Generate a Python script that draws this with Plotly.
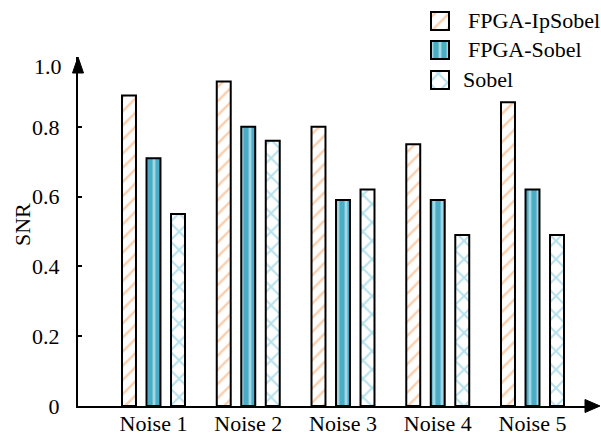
import plotly.graph_objects as go

categories = ["Noise 1", "Noise 2", "Noise 3", "Noise 4", "Noise 5"]
fpga_ipsobel = [0.89, 0.93, 0.80, 0.75, 0.87]
fpga_sobel = [0.71, 0.80, 0.59, 0.59, 0.62]
sobel = [0.55, 0.76, 0.62, 0.49, 0.49]
series_names = ["FPGA-IpSobel", "FPGA-Sobel", "Sobel"]
ytick_vals = [0, 0.2, 0.4, 0.6, 0.8]
ytick_text = ["0", "0.2", "0.4", "0.6", "0.8"]

FONT = "Liberation Serif"
W, H = 601, 436
L, R, B = 78, 588, 406   # plot area: x 78..588, y 0..406 (pixels)
YTOP = 57                # top of the main y axis
PW = R - L

def px(x):
    return (x - L) / PW

def py(y):
    return (B - y) / B

styles = [
    dict(color="white", pattern=dict(shape="/", fgcolor="#F4A261", bgcolor="white", size=10, solidity=0.25)),
    dict(color="#4BACC6", pattern=dict(shape="|", fgcolor="white", bgcolor="#4BACC6", size=8, solidity=0.35)),
    dict(color="white", pattern=dict(shape="x", fgcolor="#6EC1DA", bgcolor="white", size=13, solidity=0.3)),
]

xidx = list(range(len(categories)))
fig = go.Figure()
for name, vals, st in zip(series_names, [fpga_ipsobel, fpga_sobel, sobel], styles):
    fig.add_trace(go.Bar(
        x=xidx, y=vals, name=name, showlegend=False,
        marker=dict(color=st["color"], line=dict(color="black", width=2), pattern=st["pattern"]),
    ))

# manual legend swatches on a hidden pixel-scaled axis
leg_rows = [21, 50, 80]
LX0, LX1, LY1 = 420, 460, 100
for name, st, yc in zip(series_names, styles, leg_rows):
    fig.add_trace(go.Bar(
        x=[18], y=[yc], base=[431], width=[18], orientation="h",
        xaxis="x2", yaxis="y2", showlegend=False, hoverinfo="skip",
        marker=dict(color=st["color"], line=dict(color="black", width=2), pattern=st["pattern"]),
    ))
    fig.add_annotation(x=px(461 if name == "Sobel" else 466), xref="paper", y=py(yc), yref="paper",
                       text=name, showarrow=False, xanchor="left", yanchor="middle",
                       font=dict(family=FONT, size=22, color="black"))

unit = 94.75
r0 = -(153.5 - L) / unit
r1 = r0 + PW / unit

fig.update_layout(
    width=W, height=H,
    margin=dict(l=L, r=W - R, t=0, b=H - B, autoexpand=False),
    paper_bgcolor="white", plot_bgcolor="rgba(0,0,0,0)",
    barmode="group", bargap=0.224, bargroupgap=0.43,
    font=dict(family=FONT, size=22, color="black"),
    showlegend=False,
    xaxis=dict(range=[r0, r1], tickvals=xidx, ticktext=categories,
               showline=True, linecolor="black", linewidth=2,
               showgrid=False, zeroline=False, ticks="", ticklabelstandoff=-3,
               tickfont=dict(family=FONT, size=22, color="black")),
    yaxis=dict(range=[0, 1.0], domain=[0, py(YTOP)], tickvals=ytick_vals, ticktext=ytick_text,
               showline=True, linecolor="black", linewidth=2,
               showgrid=False, zeroline=False, ticks="inside", ticklen=4,
               tickwidth=1.5, tickcolor="black", ticklabelstandoff=12,
               tickfont=dict(family=FONT, size=22, color="black")),
    xaxis2=dict(domain=[px(LX0), px(LX1)], range=[LX0, LX1], anchor="y2",
                visible=False, fixedrange=True),
    yaxis2=dict(domain=[py(LY1), 1], range=[LY1, 0], anchor="x2",
                visible=False, fixedrange=True),
)

# "1.0" label at the arrow end and y-axis title
fig.add_annotation(x=0, xref="paper", y=py(67), yref="paper", text="1.0",
                   showarrow=False, xanchor="right", yanchor="middle", xshift=-14,
                   font=dict(family=FONT, size=22, color="black"))
fig.add_annotation(x=px(22), xref="paper", y=py(225), yref="paper", text="SNR",
                   showarrow=False, textangle=-90, xanchor="center", yanchor="middle",
                   font=dict(family=FONT, size=22, color="black"))

# arrowheads
fig.add_shape(type="path", xref="paper", yref="paper",
              path=f"M {px(72.5)},{py(73)} L {px(78)},{py(57)} L {px(83.5)},{py(73)} Z",
              fillcolor="black", line=dict(color="black", width=1))
fig.add_shape(type="path", xref="paper", yref="paper",
              path=f"M {px(585)},{py(399.5)} L {px(600)},{py(406)} L {px(585)},{py(412.5)} Z",
              fillcolor="black", line=dict(color="black", width=1))

fig.write_html("out.html")
